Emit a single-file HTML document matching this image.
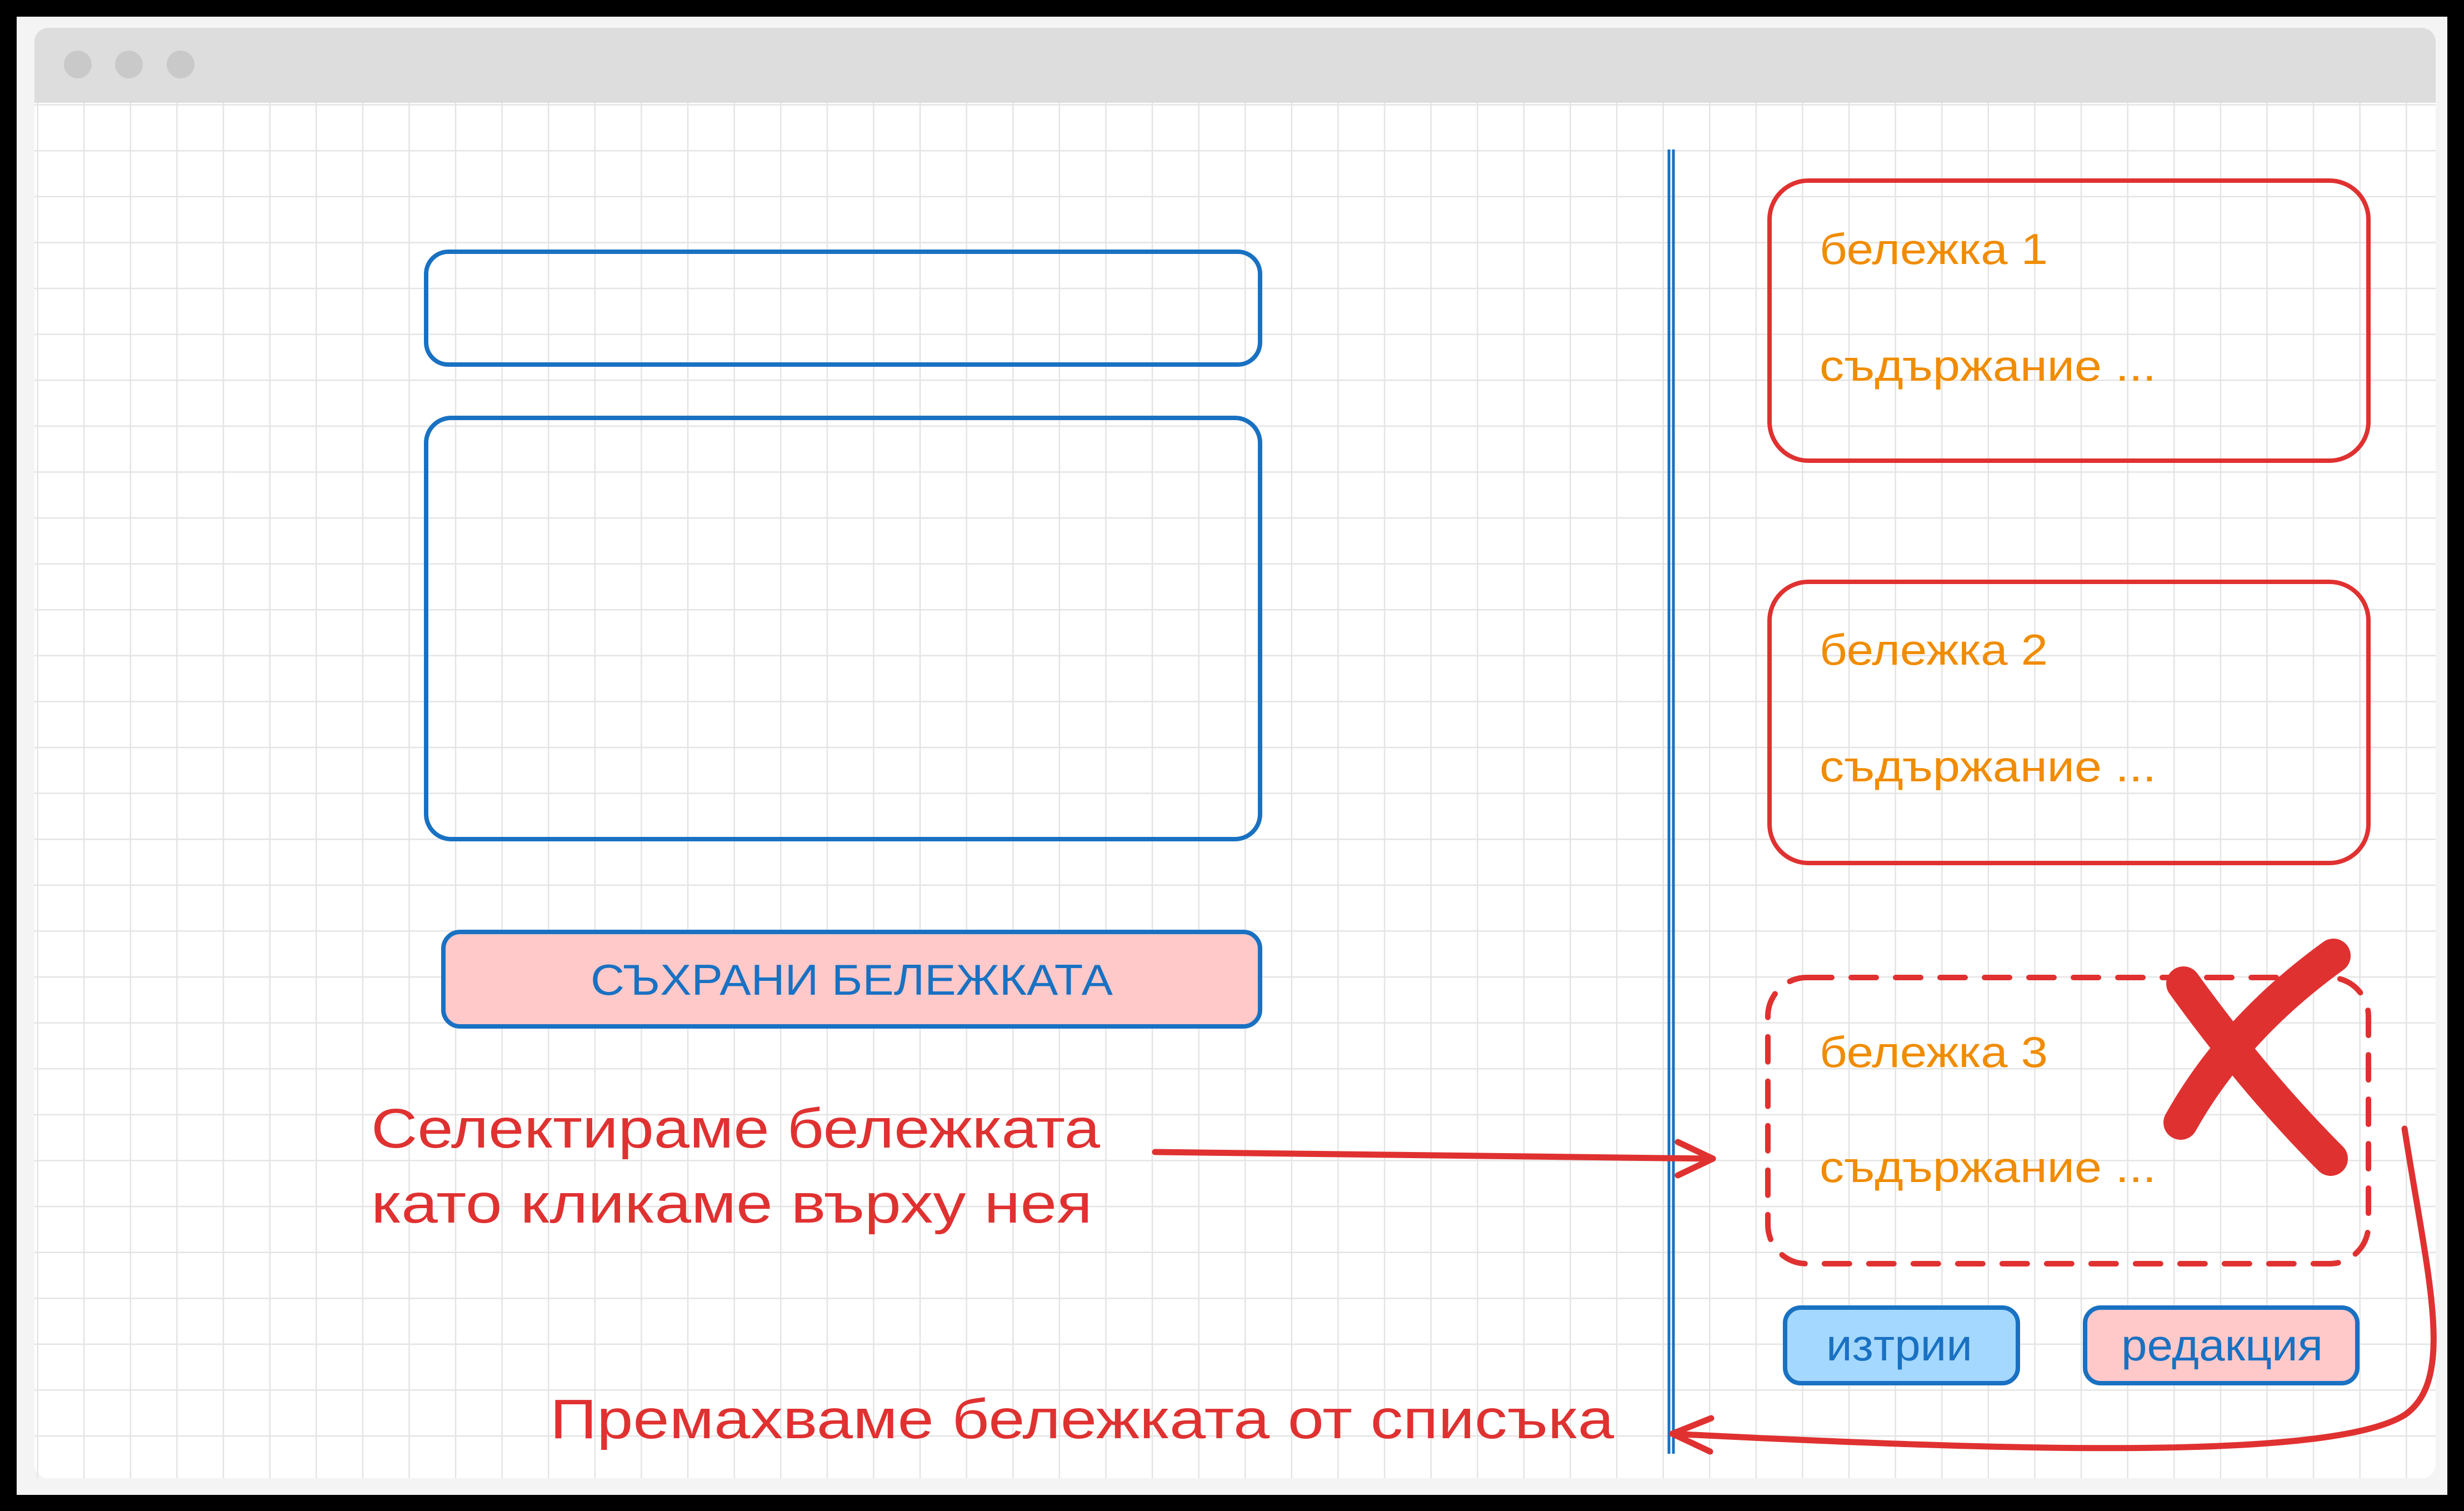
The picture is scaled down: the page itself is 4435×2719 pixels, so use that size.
<!DOCTYPE html>
<html><head><meta charset="utf-8"><style>html,body{margin:0;padding:0;background:#000}svg{display:block}</style></head>
<body>
<svg width="4435" height="2719" viewBox="0 0 4435 2719" xmlns="http://www.w3.org/2000/svg" font-family="Liberation Sans, DejaVu Sans, sans-serif">
<defs>
<pattern id="g" patternUnits="userSpaceOnUse" x="150" y="270" width="83.6" height="82.6">
<path d="M0 0V82.6M0 0H83.6" stroke="#e4e4e4" stroke-width="5" fill="none"/>
</pattern>
</defs>
<rect x="0" y="0" width="4435" height="2719" fill="#000"/>
<rect x="30" y="30" width="4375" height="2660" fill="#f4f4f4"/>
<rect x="62" y="50" width="4322" height="2610" rx="25" fill="#fff"/>
<rect x="62" y="185" width="4322" height="2475" fill="url(#g)"/>
<path d="M62 185V75a25 25 0 0 1 25-25H4359a25 25 0 0 1 25 25V185Z" fill="#dddddd"/>
<ellipse cx="140" cy="116" rx="25" ry="25" fill="#c9c9c9"/>
<ellipse cx="232" cy="116" rx="25" ry="25" fill="#c9c9c9"/>
<ellipse cx="325" cy="116" rx="25" ry="25" fill="#c9c9c9"/>

<g fill="none" stroke="#1971c2" stroke-width="8">
<rect x="767" y="453" width="1501" height="203" rx="40"/>
<rect x="767" y="752" width="1501" height="758" rx="45"/>
<rect x="798" y="1677" width="1470" height="170" rx="30" fill="#ffc9c9"/>
<line x1="3004" y1="269" x2="3004" y2="2616" stroke-width="5"/>
<line x1="3012" y1="269" x2="3012" y2="2616" stroke-width="5"/>
<rect x="3213" y="2353" width="419" height="136" rx="28" fill="#a5d8ff"/>
<rect x="3753" y="2353" width="490" height="136" rx="28" fill="#ffc9c9"/>
</g>
<text x="1063" y="1790" font-size="78" fill="#1971c2" textLength="940" lengthAdjust="spacingAndGlyphs">СЪХРАНИ БЕЛЕЖКАТА</text>

<g fill="none" stroke="#e03131" stroke-width="8">
<rect x="3185" y="325" width="1078" height="504" rx="70"/>
<rect x="3185" y="1047" width="1078" height="506" rx="70"/>
<rect x="3182" y="1759" width="1081" height="515" rx="70" stroke-dasharray="45 35" stroke-width="10" stroke-linecap="round"/>
</g>
<g font-size="78" fill="#f08c00">
<text x="3275" y="475" textLength="411" lengthAdjust="spacingAndGlyphs">бележка 1</text>
<text x="3275" y="685" textLength="606" lengthAdjust="spacingAndGlyphs">съдържание ...</text>
<text x="3275" y="1196" textLength="411" lengthAdjust="spacingAndGlyphs">бележка 2</text>
<text x="3275" y="1406" textLength="606" lengthAdjust="spacingAndGlyphs">съдържание ...</text>
<text x="3275" y="1920" textLength="411" lengthAdjust="spacingAndGlyphs">бележка 3</text>
<text x="3275" y="2127" textLength="606" lengthAdjust="spacingAndGlyphs">съдържание ...</text>
</g>
<g stroke="#e03131" stroke-width="62" stroke-linecap="round" fill="none">
<path d="M3930 1770 Q4060 1950 4195 2085"/>
<path d="M4200 1720 Q4020 1850 3925 2020"/>
</g>
<g font-size="80" fill="#1971c2">
<text x="3287" y="2448" textLength="263" lengthAdjust="spacingAndGlyphs">изтрии</text>
<text x="3818" y="2448" textLength="363" lengthAdjust="spacingAndGlyphs">редакция</text>
</g>

<g font-size="100" fill="#e03131">
<text x="668" y="2065" textLength="1312" lengthAdjust="spacingAndGlyphs">Селектираме бележката</text>
<text x="668" y="2200" textLength="1298" lengthAdjust="spacingAndGlyphs">като кликаме върху нея</text>
<text x="990" y="2588" textLength="1915" lengthAdjust="spacingAndGlyphs">Премахваме бележката от списъка</text>
</g>
<g stroke="#e03131" stroke-width="11" fill="none" stroke-linecap="round" stroke-linejoin="round">
<path d="M2079 2073 L3083 2085"/>
<path d="M3020 2055 L3083 2085 L3020 2115"/>
<path d="M4328 2031 C4370 2300 4420 2480 4330 2545 C4200 2630 3600 2610 3010 2580"/>
<path d="M3080 2552 L3010 2580 L3078 2612"/>
</g>
</svg>
</body></html>
